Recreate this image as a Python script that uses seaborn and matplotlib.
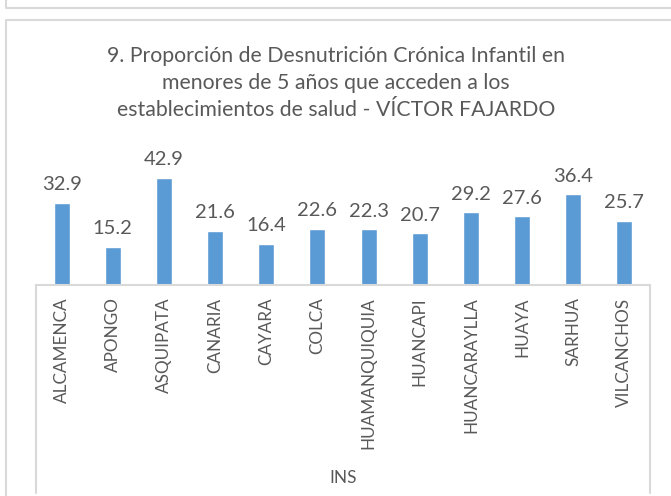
import matplotlib
matplotlib.use("Agg")
import matplotlib.pyplot as plt
from matplotlib.lines import Line2D
import seaborn as sns
import pandas as pd

# datos
distritos = ['ALCAMENCA', 'APONGO', 'ASQUIPATA', 'CANARIA', 'CAYARA', 'COLCA',
             'HUAMANQUIQUIA', 'HUANCAPI', 'HUANCARAYLLA', 'HUAYA', 'SARHUA', 'VILCANCHOS']
valores = [32.9, 15.2, 42.9, 21.6, 16.4, 22.6, 22.3, 20.7, 29.2, 27.6, 36.4, 25.7]
grupo = 'INS'
titulo = ('9. Proporción de Desnutrición Crónica Infantil en\n'
          'menores de 5 años que acceden a los\n'
          'establecimientos de salud - VÍCTOR FAJARDO')

df = pd.DataFrame({'distrito': distritos, 'valor': valores})

sns.set_style('white')
plt.rcParams['font.family'] = ['Lato', 'DejaVu Sans']
gris = '#595959'
borde = '#D9D9D9'

W, H = 671, 496
fig = plt.figure(figsize=(W / 100, H / 100), dpi=100)
ax = fig.add_axes([36 / W, (H - 285) / H, 614 / W, 125 / H])

sns.barplot(data=df, x='distrito', y='valor', color='#5B9BD5', width=0.31,
            saturation=1, ax=ax)
ax.set_ylim(0, 50.2)
ax.set_xlim(-0.5, len(distritos) - 0.5)

for i, v in enumerate(valores):
    ax.annotate(f'{v:.1f}', (i, v), xytext=(0, 7), textcoords='offset points',
                ha='center', va='bottom', fontsize=14.5, color=gris)

for s in ['top', 'left', 'right']:
    ax.spines[s].set_visible(False)
ax.spines['bottom'].set_color(borde)
ax.spines['bottom'].set_linewidth(1.5)
ax.set_yticks([])
ax.set_xlabel('')
ax.set_ylabel('')
ax.set_xticks(range(len(distritos)))
ax.set_xticklabels(distritos, rotation=90, fontsize=12.3, color=gris, va='top')
ax.tick_params(axis='x', length=0, pad=9)

# lineas de eje multinivel
for x in [36, 650]:
    fig.add_artist(Line2D([x / W, x / W], [(H - 285) / H, (H - 493) / H],
                          color=borde, lw=1.5))
fig.text(343 / W, (H - 478) / H, grupo, ha='center', va='center',
         fontsize=12.3, color=gris)

fig.text(336 / W, (H - 83) / H, titulo, ha='center', va='center',
         fontsize=15.3, color=gris, linespacing=1.42)

# bordes de los graficos
fig.add_artist(Line2D([6 / W, 6 / W, 1], [1, (H - 8) / H, (H - 8) / H],
                      color=borde, lw=1.5))
fig.add_artist(Line2D([6 / W, 6 / W, 1], [0, (H - 20) / H, (H - 20) / H],
                      color=borde, lw=1.5))

fig.savefig('out.png', dpi=100)
